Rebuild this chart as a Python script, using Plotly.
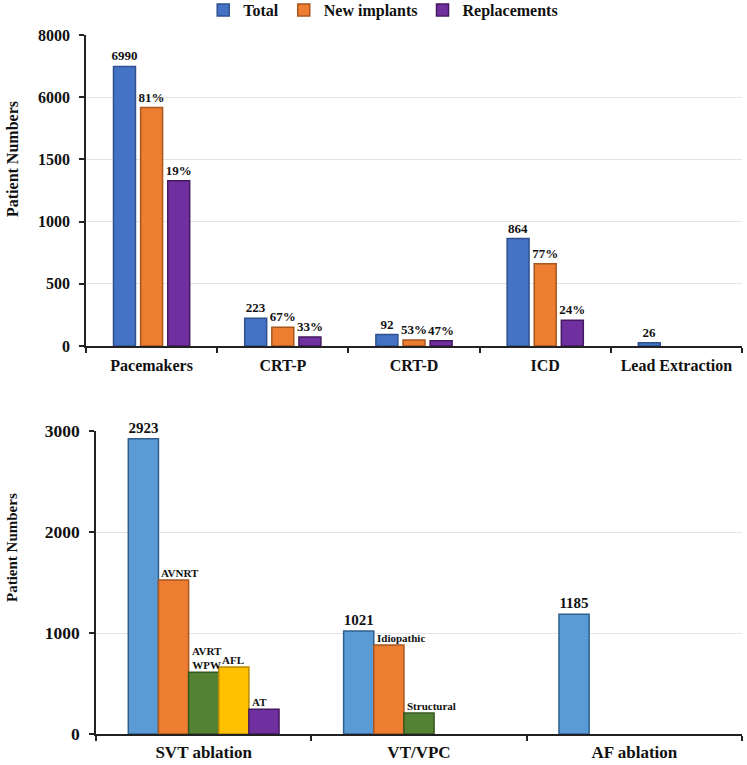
import numpy as np
import plotly.graph_objects as go

# ---------------- data: top chart (devices) ----------------
DEVICE_CATEGORIES = ["Pacemakers", "CRT-P", "CRT-D", "ICD", "Lead Extraction"]
TOTAL = [6990, 223, 92, 864, 26]
NEW_IMPLANTS = [5250, 150, 49, 662, None]
REPLACEMENTS = [1328, 73, 43, 207, None]
TOTAL_LABELS = ["6990", "223", "92", "864", "26"]
NEW_LABELS = ["81%", "67%", "53%", "77%", ""]
REPL_LABELS = ["19%", "33%", "47%", "24%", ""]
TOP_TICKS = [0, 500, 1000, 1500, 6000, 8000]  # broken (uneven) axis ticks

# ---------------- data: bottom chart (ablations) ----------------
ABLATION_CATEGORIES = ["SVT ablation", "VT/VPC", "AF ablation"]
ABL_TOTAL = [2923, 1021, 1185]
ABL_SUB1 = [1525, 880, None]
ABL_SUB2 = [612, 208, None]
ABL_SUB3 = [663, None, None]
ABL_SUB4 = [245, None, None]
ABL_TOTAL_LABELS = ["2923", "1021", "1185"]
ABL_SUB1_LABELS = ["AVNRT", "Idiopathic", ""]
ABL_SUB2_LABELS = ["AVRT<br>WPW", "Structural", ""]
ABL_SUB3_LABELS = ["AFL", "", ""]
ABL_SUB4_LABELS = ["AT", "", ""]
BOTTOM_TICKS = [0, 1000, 2000, 3000]

FONT = "Liberation Serif, Times New Roman, serif"
W, H = 747, 765


def broken(v):
    """Map values onto the uneven (broken) top axis."""
    return [None if x is None else float(np.interp(x, TOP_TICKS, range(len(TOP_TICKS)))) for x in v]


fig = go.Figure()

# ---- top chart bars ----
top_series = [
    ("Total", TOTAL, TOTAL_LABELS, "#4472C4", "#2F528F"),
    ("New implants", NEW_IMPLANTS, NEW_LABELS, "#ED7D31", "#A9561F"),
    ("Replacements", REPLACEMENTS, REPL_LABELS, "#7030A0", "#45195F"),
]
for name, vals, labels, col, edge in top_series:
    fig.add_trace(go.Bar(
        x=DEVICE_CATEGORIES, y=broken(vals), name=name,
        text=labels, textposition="outside", cliponaxis=False, constraintext="none",
        textfont=dict(family=FONT, size=13, color="#111", weight="bold"),
        marker=dict(color=col, line=dict(color=edge, width=1.5)),
        xaxis="x", yaxis="y", hoverinfo="skip",
    ))

# ---- bottom chart bars (explicit slots) ----
SLOT_W = 0.14
GROUP_START = -0.35
bottom_series = [
    (ABL_TOTAL, "#5B9BD5", "#2E5F8C"),
    (ABL_SUB1, "#ED7D31", "#A9561F"),
    (ABL_SUB2, "#548235", "#36561F"),
    (ABL_SUB3, "#FFC000", "#B88A00"),
    (ABL_SUB4, "#7030A0", "#45195F"),
]
xpos = list(range(len(ABLATION_CATEGORIES)))
for k, (vals, col, edge) in enumerate(bottom_series):
    fig.add_trace(go.Bar(
        x=xpos, y=vals, width=SLOT_W, offset=GROUP_START + k * SLOT_W,
        showlegend=False, cliponaxis=False, constraintext="none",
        text=ABL_TOTAL_LABELS if k == 0 else None,
        textposition="outside" if k == 0 else "none",
        textfont=dict(family=FONT, size=15, color="#111", weight="bold"),
        marker=dict(color=col, line=dict(color=edge, width=1.5)),
        xaxis="x2", yaxis="y2", hoverinfo="skip",
    ))

# sub-category labels, left aligned to each bar
annotations = []
for k, (vals, labels) in enumerate([(ABL_SUB1, ABL_SUB1_LABELS), (ABL_SUB2, ABL_SUB2_LABELS),
                                    (ABL_SUB3, ABL_SUB3_LABELS), (ABL_SUB4, ABL_SUB4_LABELS)], start=1):
    for i, (v, lab) in enumerate(zip(vals, labels)):
        if v is None or not lab:
            continue
        annotations.append(dict(
            x=i + GROUP_START + k * SLOT_W, y=v, xref="x2", yref="y2",
            text=lab, showarrow=False, xanchor="left", yanchor="bottom",
            xshift=1, yshift=-1,
            font=dict(family=FONT, size=11, color="#111", weight="bold"),
        ))

# y axis titles
annotations.append(dict(x=12 / W, y=1 - 159 / H, xref="paper", yref="paper",
                        xanchor="center", yanchor="middle",
                        text="Patient Numbers", textangle=-90, showarrow=False,
                        font=dict(family=FONT, size=16, color="#111", weight="bold")))
annotations.append(dict(x=12 / W, y=1 - 548 / H, xref="paper", yref="paper",
                        xanchor="center", yanchor="middle",
                        text="Patient Numbers", textangle=-90, showarrow=False,
                        font=dict(family=FONT, size=15, color="#111", weight="bold")))

axis_line = dict(showline=True, linecolor="#222", linewidth=1.5, mirror=False)
grid = "#E4E4E4"

fig.update_layout(
    width=W, height=H,
    margin=dict(l=0, r=0, t=0, b=0, autoexpand=False),
    paper_bgcolor="white", plot_bgcolor="white",
    barmode="group", bargap=0.38, bargroupgap=0.19,
    font=dict(family=FONT, color="#111"),
    showlegend=True,
    legend=dict(orientation="h", x=0.513, y=1 - 10 / H, xanchor="center", yanchor="middle",
                font=dict(family=FONT, size=16, color="#111", weight="bold"),
                itemwidth=30, bgcolor="rgba(0,0,0,0)", tracegroupgap=0),
    xaxis=dict(domain=[86 / W, 742 / W], anchor="y", type="category",
               tickson="boundaries", ticks="outside", ticklen=5, tickcolor="#222", tickwidth=1.5,
               showgrid=False, automargin=False, ticklabelstandoff=4,
               tickfont=dict(family=FONT, size=16, color="#111", weight="bold"), **axis_line),
    yaxis=dict(domain=[1 - 346 / H, 1 - 35 / H], anchor="x", range=[0, len(TOP_TICKS) - 1],
               tickmode="array", tickvals=list(range(len(TOP_TICKS))),
               ticktext=[str(t) for t in TOP_TICKS],
               ticks="outside", ticklen=5, tickcolor="#222", tickwidth=1.5, ticklabelstandoff=6,
               showgrid=True, gridcolor=grid, gridwidth=1, zeroline=False, automargin=False,
               tickfont=dict(family=FONT, size=16, color="#111", weight="bold"), **axis_line),
    xaxis2=dict(domain=[96 / W, 742 / W], anchor="y2", range=[-0.5, len(ABLATION_CATEGORIES) - 0.5],
                tickmode="array", tickvals=xpos, ticktext=ABLATION_CATEGORIES, ticks="",
                minor=dict(tickmode="array", tickvals=[i - 0.5 for i in range(len(ABLATION_CATEGORIES) + 1)],
                           ticks="outside", ticklen=5, tickcolor="#222", tickwidth=1.5, showgrid=False),
                showgrid=False, zeroline=False, automargin=False, ticklabelstandoff=2,
                tickfont=dict(family=FONT, size=17, color="#111", weight="bold"), **axis_line),
    yaxis2=dict(domain=[1 - 734 / H, 1 - 431 / H], anchor="x2", range=[0, BOTTOM_TICKS[-1]],
                tickmode="array", tickvals=BOTTOM_TICKS,
                ticks="outside", ticklen=5, tickcolor="#222", tickwidth=1.5, ticklabelstandoff=6,
                showgrid=True, gridcolor=grid, gridwidth=1, zeroline=False, automargin=False,
                tickfont=dict(family=FONT, size=17.5, color="#111", weight="bold"), **axis_line),
    annotations=annotations,
)

fig.write_html("out.html", config={"displayModeBar": False},
               post_script="document.body.style.margin='0px';")
